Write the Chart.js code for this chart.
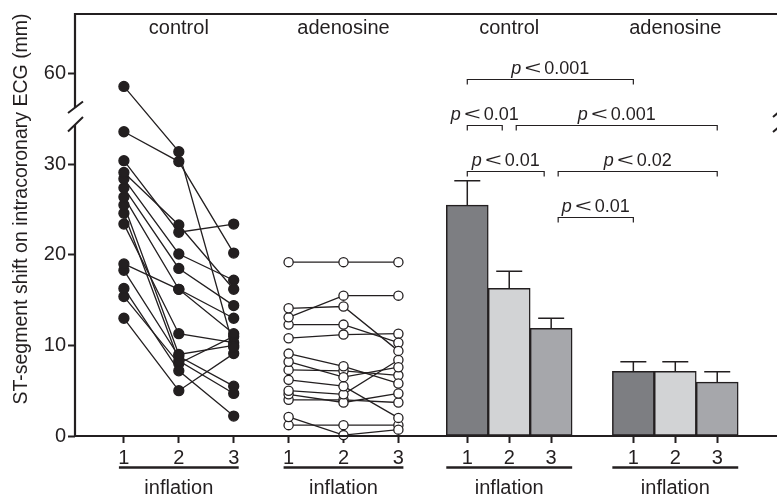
<!DOCTYPE html>
<html>
<head>
<meta charset="utf-8">
<script src="https://cdn.jsdelivr.net/npm/chart.js@4.4.0/dist/chart.umd.min.js"></script>
<style>
  html, body { margin: 0; padding: 0; background: #fff; }
  #container { width: 777px; height: 496px; position: relative; }
</style>
</head>
<body>
<div id="container"><canvas id="myChart"></canvas></div>
<script>
// ---- data (ST-segment shift, mm) ----
const inflations = ['1', '2', '3'];
const groupTitles = ['control', 'adenosine', 'control', 'adenosine'];
const yTickLabels = [0, 10, 20, 30, 60];

// individual patients, control occlusions
const controlInf1 = [58.6, 33.6, 30.4, 29.1, 28.4, 27.4, 26.4, 25.5, 24.6, 23.4, 19.0, 18.3, 16.3, 15.4, 13.0];
const controlInf2 = [31.4, 30.3, 22.5, 23.3, 20.1, 18.5, 16.2, 9.0, 8.3, 11.3, 16.2, 8.8, 7.2, 8.0, 5.0];
const controlInf3 = [9.8, 20.2, 23.4, 16.2, 17.2, 14.4, 13.0, 10.0, 4.7, 10.3, 11.3, 5.5, 2.2, 11.0, 9.1];

// individual patients, adenosine occlusions
const adenoInf1 = [19.2, 14.1, 13.1, 12.3, 10.8, 9.1, 8.2, 7.3, 6.2, 5.0, 4.6, 4.0, 2.1, 1.2];
const adenoInf2 = [19.2, 14.3, 15.5, 12.3, 11.2, 7.7, 6.5, 7.2, 5.5, 4.6, 3.7, 4.0, 0.1, 1.2];
const adenoInf3 = [19.2, 9.4, 15.5, 10.3, 11.3, 5.8, 7.6, 6.7, 2.0, 8.4, 4.7, 3.7, 0.7, 1.2];

// group means and SEM
const controlMean = [25.5, 16.3, 11.9];
const controlSem = [2.7, 1.9, 1.1];
const adenoMean = [7.15, 7.15, 5.95];
const adenoSem = [1.05, 1.05, 1.15];

// comparisons between the six bars (0-2 control, 3-5 adenosine)
const pFrom = [0, 0, 1, 0, 2, 2];
const pTo = [3, 1, 5, 2, 5, 3];
const pValues = ['0.001', '0.01', '0.001', '0.01', '0.02', '0.01'];

// ---- layout / style ----
const ink = '#231f20';
const fontFamily = "'Liberation Sans', Arial, Helvetica, sans-serif";
const barColors = ['#7d7e82', '#d2d3d5', '#a6a7ab'];
const breakAt = 45, breakGap = 20;          // axis break: 60 sits where 40 would
function toDisplay(v) { return v > breakAt ? v - breakGap : v; }

const barStep = 0.764;
const panelX = [
  [1, 2, 3],
  [4, 5, 6],
  [7.255, 7.255 + barStep, 7.255 + 2 * barStep],
  [10.28, 10.28 + barStep, 10.28 + 2 * barStep]
];
const bracketLevel = [39.4, 34.3, 34.3, 29.3, 29.3, 24.2];  // in display units
const bracketInsetL = [0, 0, 7, 0, 7, 7];
const bracketInsetR = [0, 7, 0, 7, 0, 0];
const underlinePad = [5, 5, 21, 21];

// ---- datasets ----
const barX = panelX[2].concat(panelX[3]);
const barMeans = controlMean.concat(adenoMean);
const barSems = controlSem.concat(adenoSem);

const datasets = [{
  type: 'bar',
  data: barX.map((x, i) => ({ x: x, y: barMeans[i] })),
  backgroundColor: barColors.concat(barColors),
  borderColor: ink,
  borderWidth: 1.5,
  borderSkipped: false,
  barPercentage: 1,
  categoryPercentage: 1
}];

function addPatients(a, b, c, xs, filled) {
  for (let i = 0; i < a.length; i++) {
    datasets.push({
      type: 'line',
      data: [a[i], b[i], c[i]].map((v, k) => ({ x: xs[k], y: toDisplay(v) })),
      borderColor: ink,
      borderWidth: 1.3,
      pointRadius: filled ? 5 : 4.6,
      pointBackgroundColor: filled ? ink : '#fff',
      pointBorderColor: ink,
      pointBorderWidth: 1.3,
      fill: false,
      tension: 0,
      clip: false
    });
  }
}
addPatients(controlInf1, controlInf2, controlInf3, panelX[0], true);
addPatients(adenoInf1, adenoInf2, adenoInf3, panelX[1], false);

const tickPositions = [].concat(...panelX);

// ---- annotations drawn with the chart scales ----
const extras = {
  id: 'extras',
  afterDatasetsDraw(chart) {
    const { ctx, chartArea: a, scales: { x, y } } = chart;
    ctx.save();
    ctx.strokeStyle = ink;
    ctx.fillStyle = ink;
    ctx.lineWidth = 1.5;

    // error bars
    barX.forEach((bx, i) => {
      const px = x.getPixelForValue(bx);
      const y0 = y.getPixelForValue(toDisplay(barMeans[i]));
      const y1 = y.getPixelForValue(toDisplay(barMeans[i] + barSems[i]));
      ctx.beginPath();
      ctx.moveTo(px, y0); ctx.lineTo(px, y1);
      ctx.moveTo(px - 13, y1); ctx.lineTo(px + 13, y1);
      ctx.stroke();
    });

    // significance brackets
    ctx.lineWidth = 1.2;
    pFrom.forEach((f, i) => {
      const x0 = x.getPixelForValue(barX[f]) + bracketInsetL[i];
      const x1 = x.getPixelForValue(barX[pTo[i]]) - bracketInsetR[i];
      const by = Math.round(y.getPixelForValue(bracketLevel[i])) + 0.5;
      ctx.beginPath();
      ctx.moveTo(x0, by + 5); ctx.lineTo(x0, by); ctx.lineTo(x1, by); ctx.lineTo(x1, by + 5);
      ctx.stroke();
      drawP(ctx, (x0 + x1) / 2, by - 6, pValues[i]);
    });

    ctx.restore();
  },
  afterDraw(chart) {
    const { ctx, chartArea: a, scales: { x, y } } = chart;
    const right = chart.width;
    ctx.save();
    ctx.strokeStyle = ink;
    ctx.fillStyle = ink;

    // axis lines (y with break), and top frame line
    ctx.lineWidth = 2.2;
    ctx.beginPath();
    ctx.moveTo(right, a.bottom); ctx.lineTo(a.left, a.bottom); ctx.lineTo(a.left, 125);
    ctx.moveTo(a.left, 108); ctx.lineTo(a.left, a.top);
    ctx.lineTo(right, a.top);
    ctx.stroke();
    ctx.lineWidth = 2;
    ctx.beginPath();
    ctx.moveTo(a.left - 7, 113); ctx.lineTo(a.left + 8, 101.5);
    ctx.moveTo(a.left - 7, 131.5); ctx.lineTo(a.left + 8, 117);
    ctx.moveTo(right - 4, 117); ctx.lineTo(right + 2, 112);
    ctx.moveTo(right - 4, 132); ctx.lineTo(right + 2, 127);
    ctx.stroke();

    // y axis title
    ctx.save();
    ctx.translate(22, 209);
    ctx.rotate(-Math.PI / 2);
    ctx.font = '19.5px ' + fontFamily;
    ctx.textAlign = 'center';
    ctx.textBaseline = 'middle';
    ctx.fillText('ST-segment shift on intracoronary ECG (mm)', 0, 0);
    ctx.restore();

    // group titles, underlines and "inflation"
    ctx.font = '20px ' + fontFamily;
    ctx.textAlign = 'center';
    ctx.textBaseline = 'alphabetic';
    panelX.forEach((xs, g) => {
      const mid = x.getPixelForValue(xs[1]);
      ctx.fillText(groupTitles[g], mid, 34);
      const l = x.getPixelForValue(xs[0]) - underlinePad[g];
      const r = x.getPixelForValue(xs[2]) + underlinePad[g];
      ctx.lineWidth = 2.6;
      ctx.beginPath();
      ctx.moveTo(l, 467.5); ctx.lineTo(r, 467.5);
      ctx.stroke();
      ctx.fillText('inflation', mid, 494);
    });
    ctx.restore();
  }
};

function drawP(ctx, cx, baseY, value) {
  ctx.save();
  ctx.textBaseline = 'alphabetic';
  ctx.textAlign = 'left';
  ctx.font = 'italic 18px ' + fontFamily;
  const wp = ctx.measureText('p').width;
  ctx.font = '18px ' + fontFamily;
  const wv = ctx.measureText(value).width;
  const wl = 18;
  const total = wp + 4 + wl + 1 + wv;
  let sx = cx - total / 2;
  ctx.font = 'italic 18px ' + fontFamily;
  ctx.fillText('p', sx, baseY);
  sx += wp + 4;
  ctx.save();
  ctx.translate(sx, baseY);
  ctx.scale(1.6, 1.0);
  ctx.font = '18px ' + fontFamily;
  ctx.fillText('<', -0.5, 0);
  ctx.restore();
  sx += wl + 1;
  ctx.font = '18px ' + fontFamily;
  ctx.fillText(value, sx, baseY);
  ctx.restore();
}

const ctx = document.getElementById('myChart').getContext('2d');
const chart = new Chart(ctx, {
  data: { datasets: datasets },
  options: {
    responsive: true,
    maintainAspectRatio: false,
    animation: false,
    layout: { padding: { top: 10, right: 0, left: 0, bottom: 0 } },
    plugins: { legend: { display: false }, tooltip: { enabled: false } },
    scales: {
      x: {
        type: 'linear',
        offset: false,
        min: 0.109,
        max: 12.782,
        afterFit: (s) => { s.height = 60; },
        afterBuildTicks: (s) => { s.ticks = tickPositions.map(v => ({ value: v })); },
        border: { display: false },
        grid: { offset: false, drawOnChartArea: false, drawTicks: true, tickLength: 7, tickWidth: 2, tickColor: ink },
        ticks: {
          autoSkip: false,
          maxRotation: 0,
          padding: 3,
          color: ink,
          font: { family: fontFamily, size: 20 },
          callback: (v, i) => inflations[i % 3]
        }
      },
      y: {
        type: 'linear',
        min: 0,
        max: 46.6,
        afterFit: (s) => { s.width = 75; },
        afterBuildTicks: (s) => { s.ticks = yTickLabels.map(v => ({ value: toDisplay(v) })); },
        border: { display: false },
        grid: { drawOnChartArea: false, drawTicks: true, tickLength: 7, tickWidth: 2, tickColor: ink },
        ticks: {
          padding: 2,
          color: ink,
          font: { family: fontFamily, size: 20 },
          callback: (v, i) => String(yTickLabels[i])
        }
      }
    }
  },
  plugins: [extras]
});
</script>
</body>
</html>
